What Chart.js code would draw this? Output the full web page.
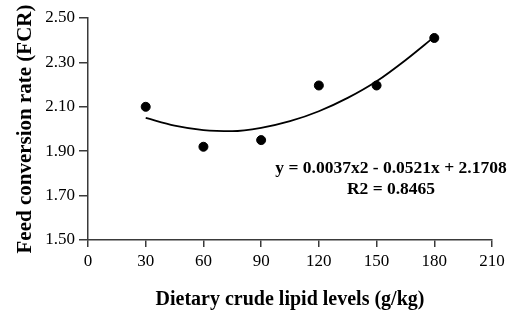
<!DOCTYPE html>
<html>
<head>
<meta charset="utf-8">
<script src="https://cdn.jsdelivr.net/npm/chart.js@4"></script>
<style>
  html, body { margin: 0; padding: 0; background: #fff; }
  #wrap { width: 510px; height: 318px; position: relative; }
</style>
</head>
<body>
<div id="wrap"><canvas id="chart"></canvas></div>
<script>
// measured points
const lipidLevels = [30, 60, 90, 120, 150, 180];
const fcrValues = [2.10, 1.92, 1.95, 2.196, 2.196, 2.41];

// trend curve
const curveX = [30, 45, 60, 75, 90, 105, 120, 135, 150, 165, 180];
const curveY = [2.05, 2.015, 1.995, 1.99, 2.005, 2.035, 2.08, 2.14, 2.215, 2.31, 2.415];

const xTicks = [0, 30, 60, 90, 120, 150, 180, 210];
const yTicks = [1.50, 1.70, 1.90, 2.10, 2.30, 2.50];

const equationLines = ['y = 0.0037x2 - 0.0521x + 2.1708', 'R2 = 0.8465'];

const serif = "'Liberation Serif', 'Times New Roman', serif";
const axisColor = '#3a3a3a';

// draws the regression text
const equationText = {
  id: 'equationText',
  afterDatasetsDraw(chart) {
    const { ctx } = chart;
    ctx.save();
    ctx.font = 'bold 17.5px ' + serif;
    ctx.fillStyle = '#000';
    ctx.textAlign = 'center';
    ctx.textBaseline = 'middle';
    ctx.fillText(equationLines[0], 391, 168);
    ctx.fillText(equationLines[1], 391, 189);
    ctx.restore();
  }
};

new Chart(document.getElementById('chart'), {
  type: 'scatter',
  data: {
    datasets: [
      {
        label: 'FCR',
        data: lipidLevels.map((x, i) => ({ x, y: fcrValues[i] })),
        backgroundColor: '#000',
        borderColor: '#000',
        pointRadius: 4.5,
        pointHoverRadius: 4.5
      },
      {
        label: 'Trend',
        type: 'line',
        data: curveX.map((x, i) => ({ x, y: curveY[i] })),
        borderColor: '#000',
        borderWidth: 1.8,
        pointRadius: 0,
        fill: false,
        cubicInterpolationMode: 'monotone'
      }
    ]
  },
  options: {
    responsive: true,
    maintainAspectRatio: false,
    animation: false,
    layout: { padding: { top: 18, right: 18, left: 0, bottom: 0 } },
    plugins: {
      legend: { display: false },
      tooltip: { enabled: false }
    },
    scales: {
      x: {
        type: 'linear',
        min: 0,
        max: 210,
        afterBuildTicks: s => { s.ticks = xTicks.map(v => ({ value: v })); },
        afterFit: s => { s.height = 78; },
        grid: { drawOnChartArea: false, drawTicks: true, tickLength: 7, color: axisColor, lineWidth: 1.5 },
        border: { color: axisColor, width: 1.5 },
        ticks: { color: '#000', font: { family: serif, size: 17 }, padding: 4, maxRotation: 0 },
        title: {
          display: true,
          text: 'Dietary crude lipid levels (g/kg)',
          color: '#000',
          font: { family: serif, size: 20, weight: 'bold' },
          padding: { top: 0, bottom: 6 }
        }
      },
      y: {
        min: 1.5,
        max: 2.5,
        afterBuildTicks: s => { s.ticks = yTicks.map(v => ({ value: v })); },
        afterFit: s => { s.width = 88; },
        grid: { drawOnChartArea: false, drawTicks: true, tickLength: 9, color: axisColor, lineWidth: 1.5 },
        border: { color: axisColor, width: 1.5 },
        ticks: {
          color: '#000',
          font: { family: serif, size: 17 },
          padding: 4,
          callback: v => v.toFixed(2)
        },
        title: {
          display: true,
          text: 'Feed conversion rate (FCR)',
          color: '#000',
          font: { family: serif, size: 21, weight: 'bold' },
          padding: { top: 13, bottom: 0 }
        }
      }
    }
  },
  plugins: [equationText]
});
</script>
</body>
</html>
